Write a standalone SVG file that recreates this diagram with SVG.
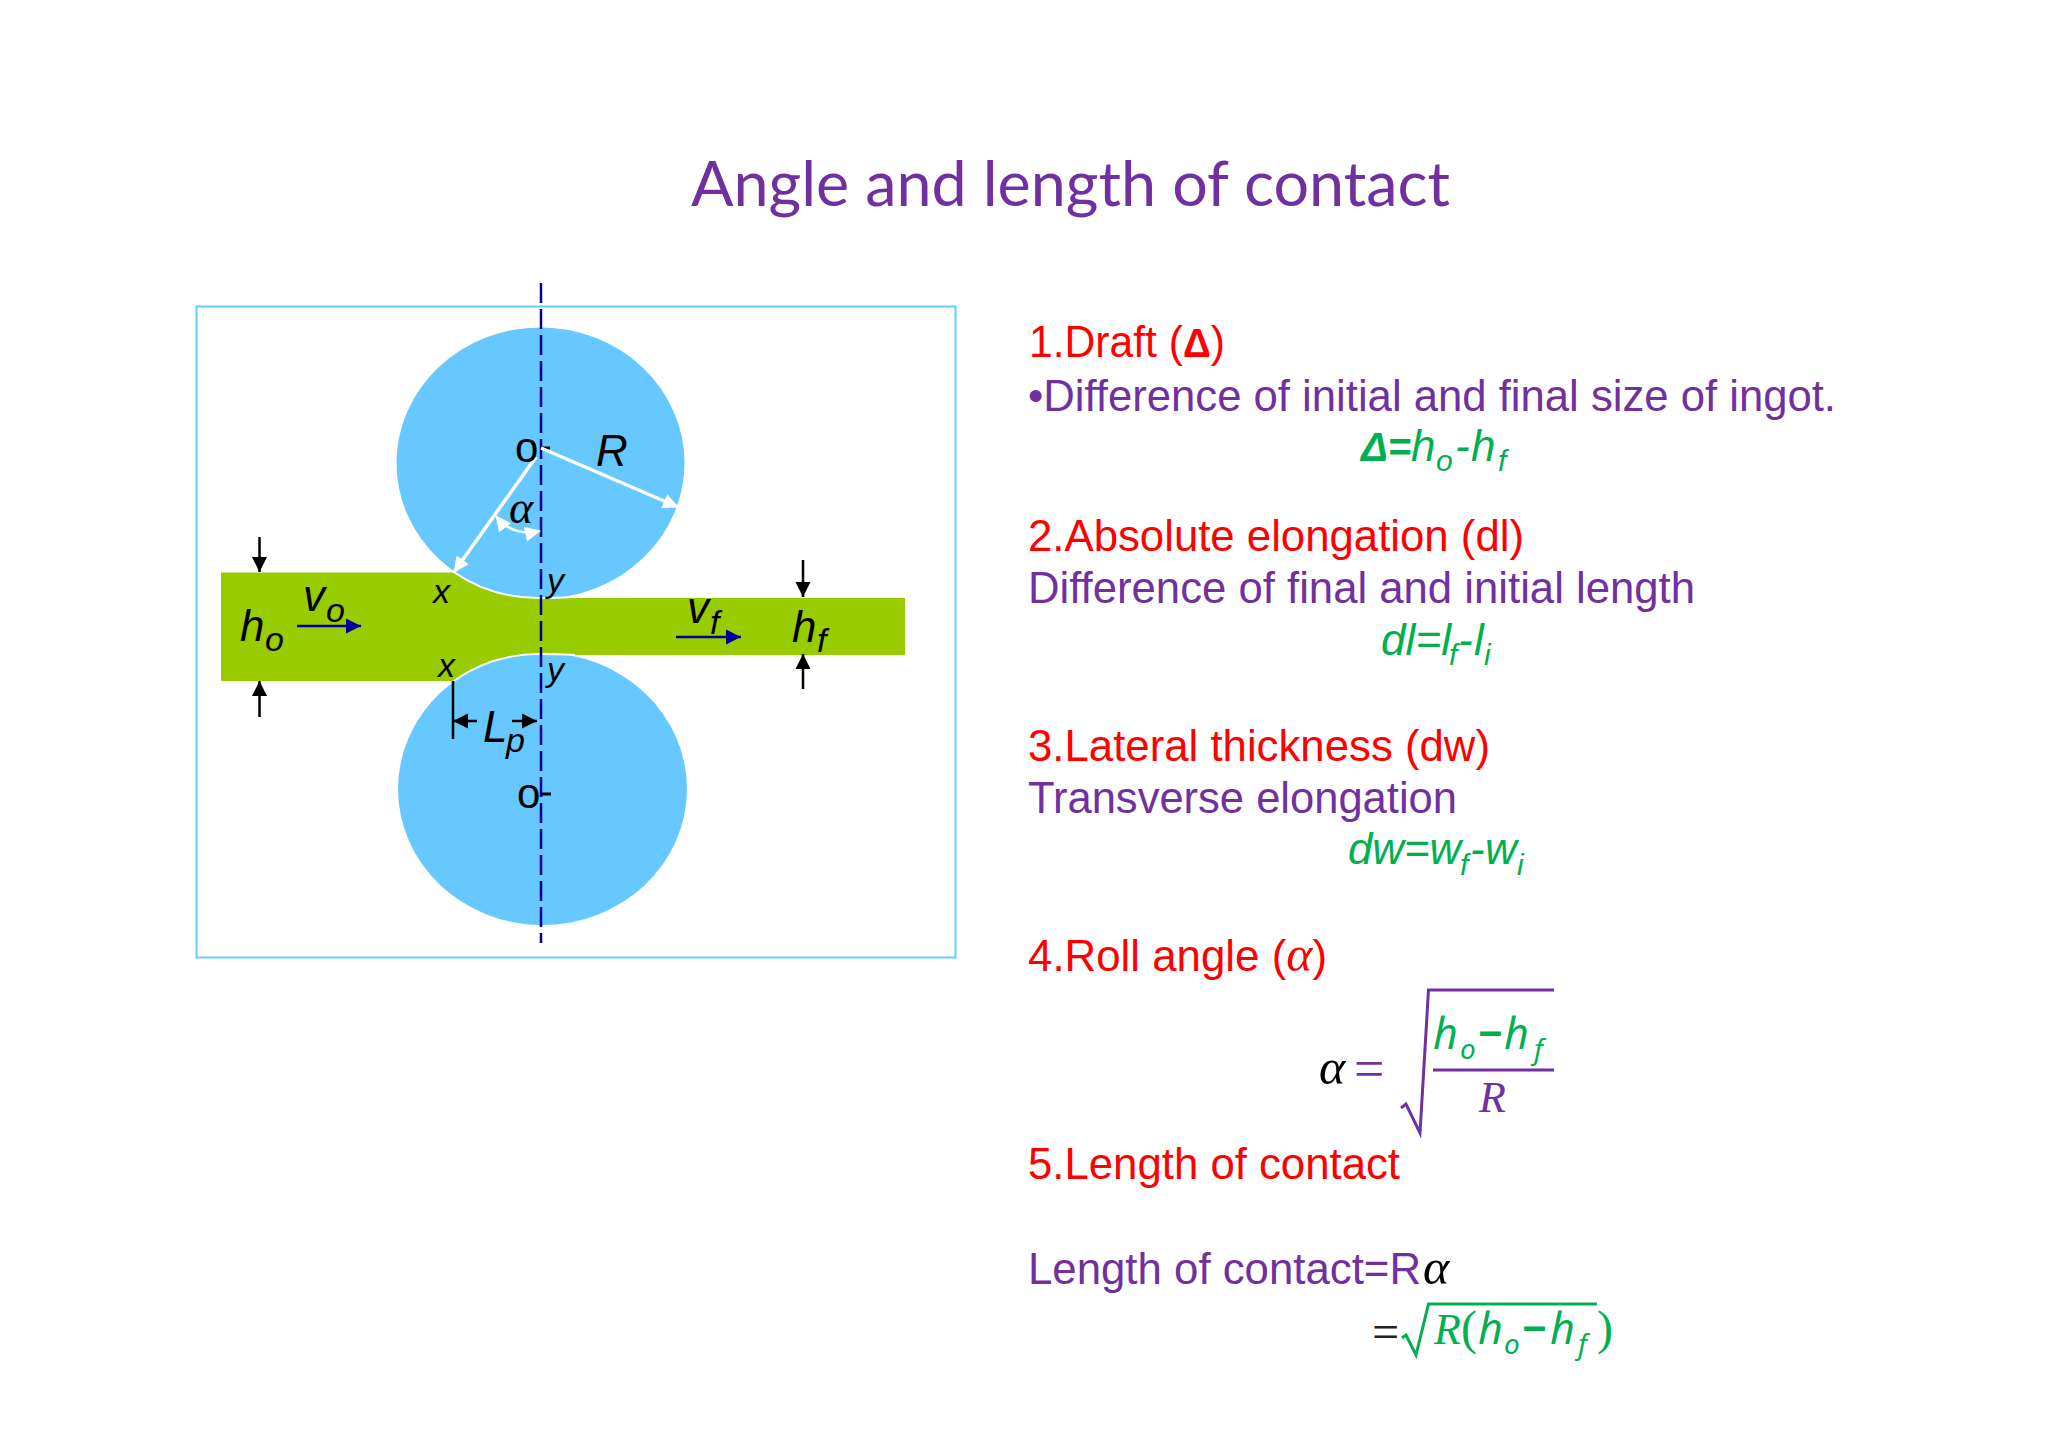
<svg xmlns="http://www.w3.org/2000/svg" width="2048" height="1447" viewBox="0 0 2048 1447">
<style>
.s{font-family:"Liberation Sans",Arial,sans-serif}
.lbl{font-family:"Liberation Sans",Arial,sans-serif;font-style:italic;fill:#000}
.big{font-size:44px}.mid{font-size:34px}
.body{font-family:"Liberation Sans",Arial,sans-serif;font-size:44px}
.red{fill:#f00}.pur{fill:#7030a0}.grn{fill:#00b050}
.sub{font-size:30px;font-style:italic}
.eq{font-style:italic}
.m{font-family:"Noto Sans",sans-serif;font-style:italic;font-size:43px}
.ms{font-family:"Noto Sans",sans-serif;font-style:italic;font-size:28px}
.ser{font-family:"Liberation Serif",serif;font-style:italic}
.bl{stroke:#000;stroke-width:2.500;fill:none}
.nv{stroke:#000099;stroke-width:2.500;fill:none}
.wh{stroke:#fff;stroke-width:3.500;fill:none}
</style>
<defs>
<marker id="hb" markerUnits="userSpaceOnUse" markerWidth="18" markerHeight="18" refX="16" refY="9" orient="auto-start-reverse"><path d="M1 1.500L16 9L1 16.500Z" fill="#000"/></marker>
<marker id="hn" markerUnits="userSpaceOnUse" markerWidth="18" markerHeight="18" refX="16" refY="9" orient="auto"><path d="M1 1.500L16 9L1 16.500Z" fill="#000099"/></marker>
<marker id="hw" markerUnits="userSpaceOnUse" markerWidth="18" markerHeight="18" refX="15" refY="9" orient="auto-start-reverse"><path d="M0 1.500L16 9L0 16.500Z" fill="#fff"/></marker>
</defs>
<rect width="2048" height="1447" fill="#fff"/>
<text id="title" x="691" y="206" font-family="Lato,sans-serif" font-size="62" fill="#7030a0" textLength="759" lengthAdjust="spacingAndGlyphs">Angle and length of contact</text>

<g id="figure">
<rect id="frame" x="196.500" y="306.500" width="759" height="651" fill="#fff" stroke="#66ccff" stroke-width="2"/>
<ellipse id="roll-top" cx="540.500" cy="463" rx="144" ry="135.500" fill="#66c8ff"/>
<ellipse id="roll-bottom" cx="542.500" cy="789" rx="144.500" ry="136" fill="#66c8ff"/>
<path id="workpiece" d="M221 572.500H453A144 135 0 0 0 541 598H905V655H541A144 136 0 0 0 453 681H221Z" fill="#99cc00"/>
<path d="M453 571.500A144 135 0 0 0 541 598Q555 598 575 597M453 681.500A144 136 0 0 1 541 654Q555 654 575 655" fill="none" stroke="#fff" stroke-width="2"/>
</g>

<g id="connectors">
<line x1="541" y1="283" x2="541" y2="943" stroke="#000099" stroke-width="2.500" stroke-dasharray="20 6"/>
<line class="bl" x1="259.500" y1="537" x2="259.500" y2="572" marker-end="url(#hb)"/>
<line class="bl" x1="259.500" y1="717" x2="259.500" y2="681" marker-end="url(#hb)"/>
<line class="bl" x1="803" y1="560" x2="803" y2="597" marker-end="url(#hb)"/>
<line class="bl" x1="803" y1="689" x2="803" y2="654" marker-end="url(#hb)"/>
<line class="bl" x1="453" y1="681" x2="453" y2="739"/>
<line class="bl" x1="477" y1="721" x2="453" y2="721" marker-end="url(#hb)"/>
<line class="bl" x1="512" y1="721" x2="537" y2="721" marker-end="url(#hb)"/>
<line class="bl" x1="540" y1="448" x2="550" y2="448" style="stroke-width:3"/>
<line class="bl" x1="541" y1="794" x2="551" y2="794" style="stroke-width:3"/>
<line class="nv" x1="297" y1="626" x2="361" y2="626" marker-end="url(#hn)"/>
<line class="nv" x1="676" y1="637" x2="741" y2="637" marker-end="url(#hn)"/>
<line class="wh" x1="541" y1="448" x2="678" y2="507" marker-end="url(#hw)"/>
<line class="wh" x1="536" y1="457" x2="454" y2="572" marker-end="url(#hw)"/>
<path class="wh" d="M496 516Q512 537 540 531" marker-start="url(#hw)" marker-end="url(#hw)" style="stroke-width:2.500"/>
</g>

<g id="diagram-labels">
<text class="lbl big" x="240" y="641">h</text><text class="lbl mid" x="265" y="651">o</text>
<text class="lbl big" x="303" y="611">v</text><text class="lbl mid" x="326" y="622">o</text>
<text class="lbl big" x="687" y="623">v</text><text class="lbl mid" x="710" y="634">f</text>
<text class="lbl big" x="792" y="642">h</text><text class="lbl mid" x="817" y="652">f</text>
<text class="lbl mid" x="433" y="603">x</text>
<text class="lbl mid" x="438" y="677">x</text>
<text class="lbl mid" x="547" y="592">y</text>
<text class="lbl mid" x="547" y="681">y</text>
<text class="lbl big" x="483" y="742">L</text><text class="lbl mid" x="506" y="752">p</text>
<text class="lbl big" x="596" y="466">R</text>
<text class="ser" x="509" y="523" font-size="46">α</text>
<text class="s" x="515" y="462" font-size="42">o</text>
<text class="s" x="517" y="808" font-size="42">o</text>
</g>

<g id="item-1">
<text class="body red" x="1029" y="357" textLength="196" lengthAdjust="spacingAndGlyphs">1.Draft (<tspan font-weight="bold" font-size="40">Δ</tspan>)</text>
<text class="body pur" x="1028" y="410.500" textLength="808" lengthAdjust="spacingAndGlyphs">•Difference of initial and final size of ingot.</text>
<text class="body grn eq" x="1361" y="461" font-weight="bold" style="font-size:40px">Δ=</text>
<text class="body grn eq" x="1411" y="461">h</text><text class="s grn sub" x="1436" y="471">o</text>
<text class="body grn eq" x="1455" y="461">-</text><text class="body grn eq" x="1471" y="461">h</text><text class="s grn sub" x="1498" y="471">f</text>
</g>
<g id="item-2">
<text class="body red" x="1028" y="551" textLength="496" lengthAdjust="spacingAndGlyphs">2.Absolute elongation (dl)</text>
<text class="body pur" x="1028" y="603" textLength="667" lengthAdjust="spacingAndGlyphs">Difference of final and initial length</text>
<text class="body grn eq" x="1381" y="655" textLength="70" lengthAdjust="spacingAndGlyphs">dl=l</text><text class="s grn sub" x="1449" y="665">f</text>
<text class="body grn eq" x="1458" y="655">-</text><text class="body grn eq" x="1474" y="655">l</text><text class="s grn sub" x="1484" y="665">i</text>
</g>
<g id="item-3">
<text class="body red" x="1028" y="761" textLength="462" lengthAdjust="spacingAndGlyphs">3.Lateral thickness (dw)</text>
<text class="body pur" x="1028" y="813" textLength="429" lengthAdjust="spacingAndGlyphs">Transverse elongation</text>
<text class="body grn eq" x="1348" y="864" textLength="113" lengthAdjust="spacingAndGlyphs">dw=w</text><text class="s grn sub" x="1460" y="875">f</text>
<text class="body grn eq" x="1470" y="864">-</text><text class="body grn eq" x="1485" y="864">w</text><text class="s grn sub" x="1517" y="875">i</text>
</g>
<g id="item-4">
<text class="body red" x="1028" y="971" textLength="299" lengthAdjust="spacingAndGlyphs">4.Roll angle (<tspan class="ser" font-size="50">α</tspan>)</text>
<text class="ser" x="1319" y="1084" font-size="50" fill="#000">α</text>
<text class="pur" x="1354" y="1087" font-family="Liberation Serif,serif" font-size="54">=</text>
<path d="M1401 1108L1406 1104L1420 1133L1428.500 990H1554" fill="none" stroke="#7030a0" stroke-width="3"/>
<text class="m grn" x="1433" y="1049">h</text><text class="ms grn" x="1460" y="1059">o</text>
<text class="m grn" x="1478" y="1049" font-weight="bold" style="font-style:normal">−</text>
<text class="m grn" x="1504" y="1049">h</text><text class="ms grn" x="1534" y="1059">f</text>
<line x1="1433" y1="1070" x2="1554" y2="1070" stroke="#7030a0" stroke-width="3"/>
<text class="ser pur" x="1479" y="1112" font-size="44">R</text>
</g>
<g id="item-5">
<text class="body red" x="1028" y="1179" textLength="372" lengthAdjust="spacingAndGlyphs">5.Length of contact</text>
<text class="body pur" x="1028" y="1284" textLength="393" lengthAdjust="spacingAndGlyphs">Length of contact=R</text>
<text class="ser" x="1423" y="1284" font-size="50" fill="#000">α</text>
<text x="1369" y="1348" font-family="Liberation Serif,serif" font-style="italic" font-size="48" fill="#222">=</text>
<path d="M1402 1338L1406 1335L1416 1355L1428.500 1304H1597" fill="none" stroke="#00b050" stroke-width="3"/>
<text class="ser grn" x="1434" y="1344" font-size="44">R</text>
<text class="ser grn" x="1461" y="1344" font-size="48" style="font-style:normal">(</text>
<text class="m grn" x="1478" y="1344">h</text><text class="ms grn" x="1504" y="1354">o</text>
<text class="m grn" x="1522" y="1344" font-weight="bold" style="font-style:normal">−</text>
<text class="m grn" x="1550" y="1344">h</text><text class="ms grn" x="1578" y="1354">f</text>
<text class="ser grn" x="1597" y="1344" font-size="48" style="font-style:normal">)</text>
</g>
</svg>
